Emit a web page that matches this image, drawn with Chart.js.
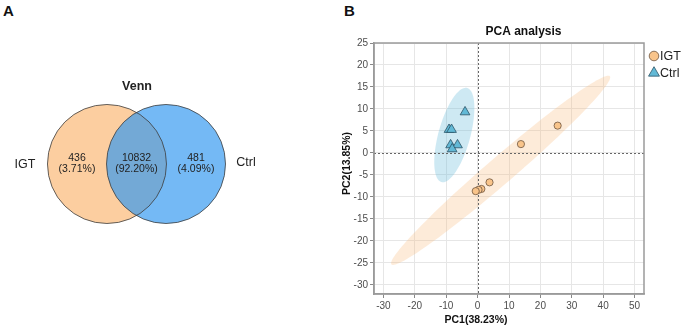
<!DOCTYPE html>
<html>
<head>
<meta charset="utf-8">
<script src="https://cdn.jsdelivr.net/npm/chart.js@4.4.0/dist/chart.umd.min.js"></script>
<style>
  body { margin: 0; width: 685px; height: 328px; position: relative; background: #fff; overflow: hidden;
         font-family: 'Liberation Sans', Arial, sans-serif; }
  .panel { position: absolute; font-weight: bold; font-size: 15px; line-height: 15px; color: #111; }
  #venn { position: absolute; left: 0; top: 0; }
  #pca { position: absolute; left: 335px; top: 0; }
</style>
</head>
<body>
<div class="panel" style="left:3px;top:3px">A</div>
<div class="panel" style="left:344px;top:3px">B</div>
<canvas id="venn" width="300" height="328"></canvas>
<canvas id="pca" width="350" height="328"></canvas>
<script>
// ---- Venn data
const vennSets = ['IGT', 'Ctrl'];
const vennCounts = [436, 10832, 481];          // IGT only, shared, Ctrl only
const vennShares = ['3.71%', '92.20%', '4.09%'];

// ---- PCA scores
const igtPC1 = [25.5, 13.8, 3.8, 1.2, 0.3, -0.6];
const igtPC2 = [6.2, 2.0, -6.7, -8.2, -8.4, -8.7];
const ctrlPC1 = [-4.0, -9.1, -8.3, -8.6, -6.4, -8.1];
const ctrlPC2 = [9.3, 5.3, 5.3, 1.8, 1.8, 0.9];
const pc1Ticks = [-30, -20, -10, 0, 10, 20, 30, 40, 50];
const pc2Ticks = [-30, -25, -20, -15, -10, -5, 0, 5, 10, 15, 20, 25];

const FONT = "'Liberation Sans', Arial, sans-serif";

// ================= Venn =================
// circles have radius 1 in venn units
const vennCenters = [-0.496, 0.496];
const vennFills = ['#FCCEA0', 'rgba(50,152,240,0.68)'];
const regionX = [-1.0, 0, 1.0];
const nameX = [-1.874, 1.84];

const vennDraw = {
  id: 'vennDraw',
  afterDatasetsDraw(chart) {
    const { ctx, scales: { x, y } } = chart;
    const r = x.getPixelForValue(1) - x.getPixelForValue(0);
    const circles = chart.data.datasets.map((ds, i) => chart.getDatasetMeta(i).data[0]);
    ctx.save();
    circles.forEach((el, i) => {
      ctx.beginPath();
      ctx.arc(el.x, el.y, r, 0, Math.PI * 2);
      ctx.fillStyle = vennFills[i];
      ctx.fill();
    });
    // outlines on top of fills
    circles.forEach(el => {
      ctx.beginPath();
      ctx.arc(el.x, el.y, r, 0, Math.PI * 2);
      ctx.strokeStyle = '#3c3c3c';
      ctx.lineWidth = 0.8;
      ctx.stroke();
    });
    ctx.fillStyle = '#222';
    ctx.textAlign = 'center';
    ctx.textBaseline = 'middle';
    const cy = y.getPixelForValue(0);
    ctx.font = '10.5px ' + FONT;
    vennCounts.forEach((c, i) => {
      const px = x.getPixelForValue(regionX[i]);
      ctx.fillText(String(c), px, cy - 5.5);
      ctx.fillText('(' + vennShares[i] + ')', px, cy + 5.5);
    });
    ctx.font = '12.5px ' + FONT;
    vennSets.forEach((s, i) => ctx.fillText(s, x.getPixelForValue(nameX[i]), cy + (i ? -1 : 1)));
    ctx.font = 'bold 12.5px ' + FONT;
    ctx.fillText('Venn', x.getPixelForValue(0.008), y.getPixelForValue(1.294));
    ctx.restore();
  }
};

new Chart(document.getElementById('venn'), {
  type: 'scatter',
  data: {
    datasets: vennSets.map((s, i) => ({ label: s, data: [{ x: vennCenters[i], y: 0 }], pointRadius: 0 }))
  },
  options: {
    responsive: false,
    animation: false,
    events: [],
    layout: { padding: 0 },
    plugins: { legend: { display: false }, tooltip: { enabled: false } },
    scales: {
      x: { type: 'linear', display: false, min: -2.294, max: 2.748 },
      y: { type: 'linear', display: false, min: -2.756, max: 2.756 }
    }
  },
  plugins: [vennDraw]
});

// ================= PCA =================
// confidence ellipses: centre = group mean, half axes (data units)
const ellipses = [
  { pc1: igtPC1, pc2: igtPC2, major: [34.8, 21.4], minor: [2.8, -2.3], fill: 'rgba(250,190,130,0.30)' },
  { pc1: ctrlPC1, pc2: ctrlPC2, major: [4.1, 10.7], minor: [4.9, -0.95], fill: 'rgba(110,190,220,0.34)' }
];
const mean = a => a.reduce((s, v) => s + v, 0) / a.length;

const pcaExtras = {
  id: 'pcaExtras',
  beforeDatasetsDraw(chart) {
    const { ctx, chartArea: a, scales: { x, y } } = chart;
    ctx.save();
    ctx.beginPath();
    ctx.rect(a.left, a.top, a.right - a.left, a.bottom - a.top);
    ctx.clip();
    ellipses.forEach(e => {
      const cx = mean(e.pc1), cy = mean(e.pc2);
      ctx.beginPath();
      for (let k = 0; k <= 120; k++) {
        const t = k / 120 * Math.PI * 2;
        const vx = cx + e.major[0] * Math.cos(t) + e.minor[0] * Math.sin(t);
        const vy = cy + e.major[1] * Math.cos(t) + e.minor[1] * Math.sin(t);
        const px = x.getPixelForValue(vx), py = y.getPixelForValue(vy);
        k ? ctx.lineTo(px, py) : ctx.moveTo(px, py);
      }
      ctx.closePath();
      ctx.fillStyle = e.fill;
      ctx.fill();
    });
    // zero lines
    ctx.setLineDash([2, 2]);
    ctx.strokeStyle = '#666';
    ctx.lineWidth = 1;
    const x0 = Math.round(x.getPixelForValue(0)) + 0.5;
    const y0 = Math.round(y.getPixelForValue(0)) + 0.5;
    ctx.beginPath();
    ctx.moveTo(x0, a.top); ctx.lineTo(x0, a.bottom);
    ctx.moveTo(a.left, y0); ctx.lineTo(a.right, y0);
    ctx.stroke();
    ctx.restore();
  },
  afterDraw(chart) {
    const { ctx, chartArea: a } = chart;
    ctx.save();
    ctx.strokeStyle = '#9a9a9a';
    ctx.lineWidth = 1.5;
    ctx.strokeRect(a.left, a.top, a.right - a.left, a.bottom - a.top);

    ctx.fillStyle = '#111';
    ctx.textAlign = 'center';
    ctx.textBaseline = 'middle';
    ctx.font = 'bold 12px ' + FONT;
    ctx.fillText('PCA analysis', 188.5, 31.5);
    ctx.font = 'bold 10.5px ' + FONT;
    ctx.fillText('PC1(38.23%)', 141, 320);
    ctx.save();
    ctx.translate(12.5, 163.5);
    ctx.rotate(-Math.PI / 2);
    ctx.fillText('PC2(13.85%)', 0, 0);
    ctx.restore();

    // legend
    ctx.textAlign = 'left';
    ctx.font = '12.5px ' + FONT;
    chart.data.datasets.forEach((ds, i) => {
      const ly = 56 + i * 17;
      ctx.fillStyle = ds.backgroundColor;
      ctx.strokeStyle = ds.borderColor;
      ctx.lineWidth = 0.8;
      Chart.helpers.drawPoint(ctx, { pointStyle: ds.pointStyle, radius: i ? 6.3 : 4.8, borderWidth: 0.8, rotation: 0 }, 319, ly);
      ctx.fillStyle = '#222';
      ctx.fillText(ds.label, 325, ly + 0.5);
    });
    ctx.restore();
  }
};

const fixTicks = list => s => { s.ticks = list.map(v => ({ value: v })); };

new Chart(document.getElementById('pca'), {
  type: 'scatter',
  data: {
    datasets: [
      {
        label: 'IGT',
        data: igtPC1.map((v, i) => ({ x: v, y: igtPC2[i] })),
        pointStyle: 'circle', radius: 3.6,
        backgroundColor: '#F9C48A', borderColor: '#6e5640', borderWidth: 0.8
      },
      {
        label: 'Ctrl',
        data: ctrlPC1.map((v, i) => ({ x: v, y: ctrlPC2[i] })),
        pointStyle: 'triangle', radius: 5.6,
        backgroundColor: '#62B9D6', borderColor: '#2b5366', borderWidth: 0.8
      }
    ]
  },
  options: {
    responsive: false,
    animation: false,
    events: [],
    layout: { padding: { left: 13, right: 41, top: 43, bottom: 15 } },
    plugins: { legend: { display: false }, tooltip: { enabled: false } },
    scales: {
      x: {
        type: 'linear', min: -33, max: 53,
        afterBuildTicks: fixTicks(pc1Ticks),
        afterFit: s => { s.height = 19; },
        grid: { color: '#e6e6e6', tickColor: '#888', tickLength: 4 },
        border: { display: true, color: '#9a9a9a', width: 1.5 },
        ticks: { color: '#4d4d4d', font: { size: 10, family: FONT }, padding: 2, maxRotation: 0 }
      },
      y: {
        type: 'linear', min: -32.1, max: 25,
        afterBuildTicks: fixTicks(pc2Ticks),
        afterFit: s => { s.width = 26; },
        grid: { color: '#e6e6e6', tickColor: '#888', tickLength: 4 },
        border: { display: true, color: '#9a9a9a', width: 1.5 },
        ticks: { color: '#4d4d4d', font: { size: 10, family: FONT }, padding: 2 }
      }
    }
  },
  plugins: [pcaExtras]
});
</script>
</body>
</html>
